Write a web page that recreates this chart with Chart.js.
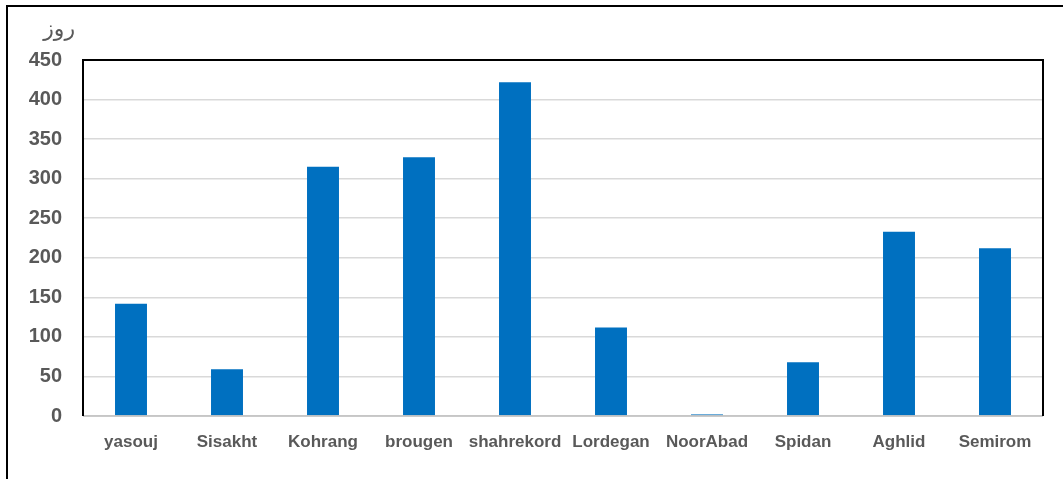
<!DOCTYPE html>
<html>
<head>
<meta charset="utf-8">
<script src="https://cdn.jsdelivr.net/npm/chart.js@4/dist/chart.umd.min.js"></script>
<style>
html,body{margin:0;padding:0;background:#fff;}
#wrap{position:relative;width:1063px;height:479px;}
</style>
</head>
<body>
<div id="wrap"><canvas id="c" width="1063" height="479"></canvas></div>
<script>
const categories = ['yasouj','Sisakht','Kohrang','brougen','shahrekord','Lordegan','NoorAbad','Spidan','Aghlid','Semirom'];
const days = [142, 59, 315, 327, 422, 112, 2, 68, 233, 212];
const yTicks = [0, 50, 100, 150, 200, 250, 300, 350, 400, 450];
const yAxisTitle = 'روز';

const frame = {
  id: 'frame',
  afterDraw(chart) {
    const ctx = chart.ctx, a = chart.chartArea;
    ctx.save();
    ctx.strokeStyle = '#000';
    ctx.lineWidth = 2;
    ctx.beginPath();
    ctx.moveTo(7, 479); ctx.lineTo(7, 6); ctx.lineTo(1063, 6);
    ctx.stroke();
    ctx.strokeStyle = '#bfbfbf';
    ctx.lineWidth = 1.5;
    ctx.beginPath();
    ctx.moveTo(a.left, a.bottom); ctx.lineTo(a.right, a.bottom);
    ctx.stroke();
    ctx.strokeStyle = '#000';
    ctx.lineWidth = 2;
    ctx.beginPath();
    ctx.moveTo(a.left, a.bottom); ctx.lineTo(a.left, a.top); ctx.lineTo(a.right, a.top); ctx.lineTo(a.right, a.bottom);
    ctx.stroke();
    ctx.fillStyle = '#595959';
    ctx.font = '22px "DejaVu Sans", "Noto Sans", sans-serif';
    ctx.textAlign = 'right';
    ctx.textBaseline = 'middle';
    ctx.direction = 'rtl';
    ctx.fillText(yAxisTitle, 75, 30);
    ctx.restore();
  }
};

new Chart(document.getElementById('c'), {
  type: 'bar',
  data: {
    labels: categories,
    datasets: [{
      data: days,
      backgroundColor: '#0070C0',
      borderWidth: 0,
      barPercentage: 0.333,
      categoryPercentage: 1.0
    }]
  },
  options: {
    responsive: false,
    animation: false,
    layout: { padding: { top: 60, right: 20, left: 0, bottom: 0 } },
    plugins: { legend: { display: false }, tooltip: { enabled: false } },
    scales: {
      x: {
        grid: { display: false, drawTicks: false },
        border: { display: false },
        ticks: {
          color: '#595959',
          font: { family: '"Liberation Sans", Arial, sans-serif', size: 17, weight: 'bold' },
          padding: 16,
          maxRotation: 0, autoSkip: false
        },
        afterFit(s) { s.height = 63; }
      },
      y: {
        min: 0, max: 450,
        afterBuildTicks(s) { s.ticks = yTicks.map(v => ({ value: v })); },
        grid: { color: '#d9d9d9', lineWidth: 1.5, drawTicks: false },
        border: { display: false },
        ticks: {
          color: '#595959',
          font: { family: '"Liberation Sans", Arial, sans-serif', size: 20, weight: 'bold' },
          padding: 21
        },
        afterFit(s) { s.width = 83; }
      }
    }
  },
  plugins: [frame]
});
</script>
</body>
</html>
